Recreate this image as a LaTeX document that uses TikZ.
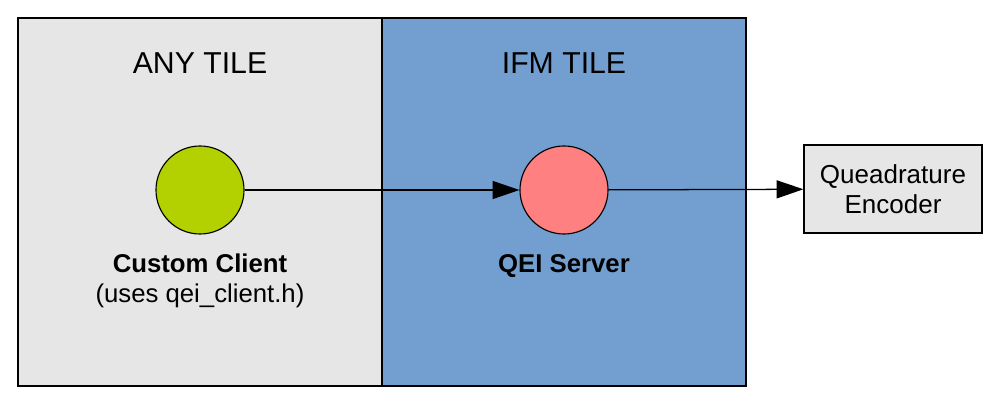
\documentclass[tikz,border=0pt]{standalone}
\usepackage{fontspec}
\setmainfont{Liberation Sans}
\usetikzlibrary{arrows.meta, positioning}
\definecolor{tilegray}{HTML}{E6E6E6}
\definecolor{tileblue}{HTML}{729FCF}
\definecolor{clientgreen}{HTML}{B3D100}
\definecolor{serverred}{HTML}{FF8080}

\begin{document}
\begin{tikzpicture}[
    x=0.025cm, y=-0.025cm,
    tile/.style={draw, line width=0.8pt, minimum width=9.1cm, minimum height=9.2cm, inner sep=0pt},
    title/.style={font=\fontsize{21.5}{26}\selectfont},
    task/.style={circle, draw, line width=0.8pt, minimum size=2.2cm, inner sep=0pt},
    caption/.style={align=center, inner sep=0pt, font=\fontsize{18.3}{21.3}\selectfont},
    device/.style={draw, line width=0.8pt, fill=tilegray, minimum width=4.45cm, minimum height=2.2cm,
        align=center, inner sep=0pt, font=\fontsize{18.5}{21.3}\selectfont},
    arr/.style={draw, line width=0.9pt, -{Triangle[length=0.67cm, width=0.45cm]}}
]
    \useasboundingbox (0,0) rectangle (1000,405);

    % Tiles
    \node[tile, fill=tilegray] (anytile) at (200,202) {};
    \node[tile, fill=tileblue] (ifmtile) at (564,202) {};
    \node[title] (anytitle) at (200,63) {ANY TILE};
    \node[title] (ifmtitle) at (564,63) {IFM TILE};

    % Tasks
    \node[task, fill=clientgreen] (client) at (200,190) {};
    \node[task, fill=serverred] (server) at (564,190) {};
    \node[caption, below=0.48cm of client] (clientlabel) {\textbf{Custom Client}\\(uses qei\_client.h)};
    \node[caption, below=0.48cm of server] (serverlabel) {\textbf{QEI Server}};

    % Device
    \node[device] (encoder) at (893,189) {Queadrature\\Encoder};

    % Arrows
    \draw[arr] (client) -- (server);
    \draw[arr] (server) -- (encoder);
\end{tikzpicture}
\end{document}
